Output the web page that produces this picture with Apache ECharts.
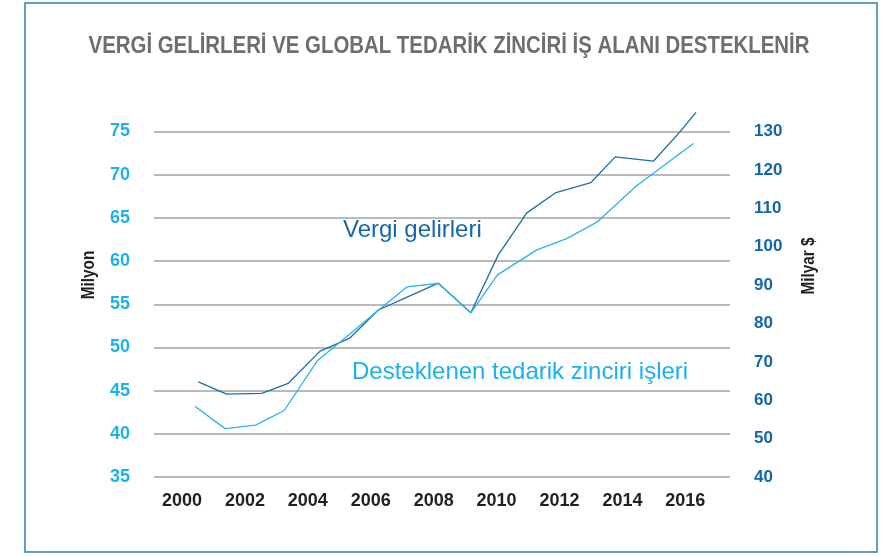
<!DOCTYPE html>
<html>
<head>
<meta charset="UTF-8"/>
<script src="https://cdn.jsdelivr.net/npm/echarts@6/dist/echarts.min.js"></script>
<title>Vergi gelirleri ve tedarik zinciri</title>
<style>
    html, body {margin: 0; padding: 0; background: #fff;}
    #main {width: 884px; height: 556px;}
</style>
</head>
<body>
<div id="main"></div>
<script>
    // Vergi gelirleri (Milyar $, sag eksen) - noktalar
    var vergiYil = [2000.52, 2001.42, 2002.53, 2003.38, 2004.39, 2005.32, 2006.24, 2007.19, 2008.15,
        2009.18, 2010.05, 2010.96, 2011.89, 2013.0, 2013.77, 2014.99, 2015.83, 2016.34];
    var vergiDeger = [64.8, 61.6, 61.8, 64.4, 72.8, 76.1, 83.5, 87.0, 90.5,
        82.8, 97.8, 108.8, 114.1, 116.7, 123.4, 122.3, 129.9, 135.0];

    // Desteklenen tedarik zinciri isleri (Milyon, sol eksen)
    var isYil = [2000.41, 2001.37, 2002.34, 2003.25, 2004.31, 2005.32, 2006.24, 2007.15,
        2008.15, 2009.18, 2010.03, 2011.28, 2012.23, 2013.19, 2014.44, 2016.26];
    var isDeger = [43.2, 40.6, 41.0, 42.7, 48.5, 51.5, 54.3, 57.0,
        57.4, 54.0, 58.4, 61.3, 62.6, 64.5, 68.7, 73.6];

    var yilEtiket = [2000, 2002, 2004, 2006, 2008, 2010, 2012, 2014, 2016];

    var sans = "'Liberation Sans', Arial, sans-serif";

    function pairs(xs, ys) {
        var out = [];
        for (var i = 0; i < xs.length; i++) out.push([xs[i], ys[i]]);
        return out;
    }

    var myChart = echarts.init(document.getElementById('main'));
    var option = {
        backgroundColor: '#fff',
        animation: false,
        grid: {left: 154, right: 154, top: 131.5, bottom: 79},
        xAxis: {
            type: 'value',
            min: 1999.11,
            max: 2017.42,
            axisLine: {show: false},
            axisTick: {show: false},
            splitLine: {show: false},
            axisLabel: {
                customValues: yilEtiket,
                formatter: function (v) { return String(v); },
                margin: 15,
                color: '#231f20',
                fontFamily: sans,
                fontWeight: 'bold',
                fontSize: 18
            }
        },
        yAxis: [
            {
                type: 'value',
                position: 'left',
                min: 35,
                max: 75,
                interval: 5,
                axisLine: {show: false},
                axisTick: {show: false},
                splitLine: {lineStyle: {color: '#a3a3a3', width: 1.5}},
                axisLabel: {margin: 24, color: '#1ab1ec', fontFamily: sans, fontWeight: 'bold', fontSize: 18}
            },
            {
                type: 'value',
                position: 'right',
                min: 40,
                max: 130,
                interval: 10,
                axisLine: {show: false},
                axisTick: {show: false},
                splitLine: {show: false},
                axisLabel: {margin: 24, color: '#1565a8', fontFamily: sans, fontWeight: 'bold', fontSize: 17}
            }
        ],
        series: [
            {
                name: 'Vergi gelirleri',
                type: 'line',
                yAxisIndex: 1,
                data: pairs(vergiYil, vergiDeger),
                symbol: 'none',
                clip: false,
                lineStyle: {color: '#1f6f9c', width: 1.3}
            },
            {
                name: 'Desteklenen tedarik zinciri işleri',
                type: 'line',
                yAxisIndex: 0,
                data: pairs(isYil, isDeger),
                symbol: 'none',
                clip: false,
                lineStyle: {color: '#2bb3ea', width: 1.3}
            }
        ],
        graphic: [
            {
                type: 'rect',
                shape: {x: 25, y: 3, width: 852, height: 549},
                style: {fill: 'none', stroke: '#2f7bbf', lineWidth: 1.5},
                silent: true
            },
            {
                // baslik: dar yazi tipi yok, yatayda sikistiriliyor
                type: 'text', x: 449, y: 46, scaleX: 0.85,
                style: {
                    text: 'VERGİ GELİRLERİ VE GLOBAL TEDARİK ZİNCİRİ İŞ ALANI DESTEKLENİR',
                    fill: '#6d6e71', font: "bold 24px " + sans,
                    align: 'center', verticalAlign: 'middle'
                }
            },
            {
                type: 'text', x: 343, y: 230,
                style: {
                    text: 'Vergi gelirleri', fill: '#1767a8',
                    font: "24px " + sans,
                    align: 'left', verticalAlign: 'middle'
                }
            },
            {
                type: 'text', x: 352, y: 372,
                style: {
                    text: 'Desteklenen tedarik zinciri işleri', fill: '#1ab1ec',
                    font: "24px " + sans,
                    align: 'left', verticalAlign: 'middle'
                }
            },
            {
                type: 'text', x: 89, y: 275, rotation: Math.PI / 2, scaleX: 0.85,
                style: {
                    text: 'Milyon', fill: '#231f20', font: "bold 18px " + sans,
                    align: 'center', verticalAlign: 'middle'
                }
            },
            {
                type: 'text', x: 809, y: 266, rotation: Math.PI / 2, scaleX: 0.85,
                style: {
                    text: 'Milyar $', fill: '#231f20', font: "bold 18px " + sans,
                    align: 'center', verticalAlign: 'middle'
                }
            }
        ]
    };
    myChart.setOption(option);
</script>
</body>
</html>
